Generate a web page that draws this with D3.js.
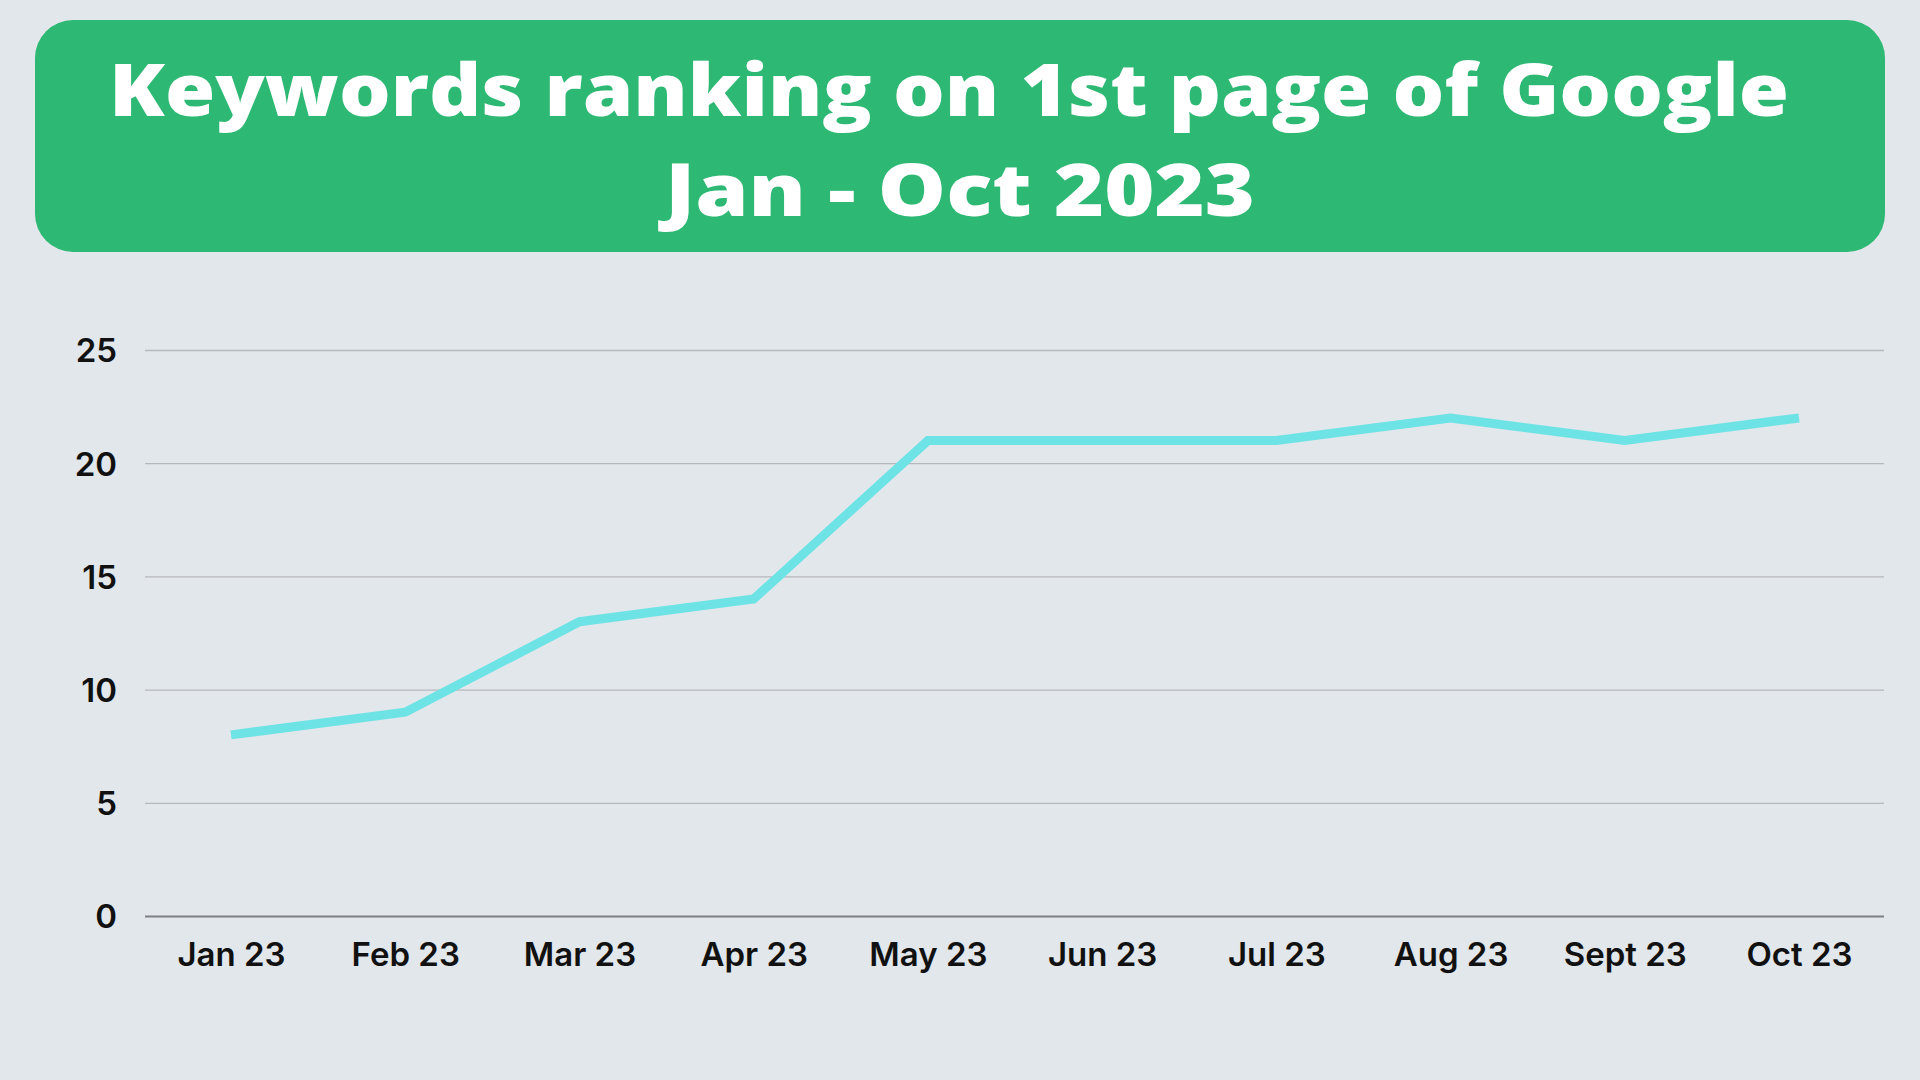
<!DOCTYPE html>
<html>
<head>
<meta charset="utf-8">
<script src="https://cdn.jsdelivr.net/npm/d3@7"></script>
<style>
  html, body { margin: 0; padding: 0; background: #e2e7eb; }
  svg { display: block; }
</style>
</head>
<body>
<svg id="chart" width="1920" height="1080"></svg>
<script>
const months = ["Jan 23", "Feb 23", "Mar 23", "Apr 23", "May 23", "Jun 23", "Jul 23", "Aug 23", "Sept 23", "Oct 23"];
const keywords = [8, 9, 13, 14, 21, 21, 21, 22, 21, 22];
const yTicks = [0, 5, 10, 15, 20, 25];
const titleLines = ["Keywords ranking on 1st page of Google", "Jan - Oct 2023"];

const width = 1920, height = 1080;
const svg = d3.select("#chart");

svg.append("rect")
    .attr("width", width)
    .attr("height", height)
    .attr("fill", "#e2e7eb");

// Banner del título
svg.append("rect")
    .attr("x", 35)
    .attr("y", 20)
    .attr("width", 1850)
    .attr("height", 232)
    .attr("rx", 38)
    .attr("fill", "#2db873");

// Título: dos líneas, estiradas al ancho del original
const titulo = [
    { texto: titleLines[0], x: 949, y: 116, ancho: 1680 },
    { texto: titleLines[1], x: 960, y: 216, ancho: 590 }
];

svg.selectAll("text.titulo")
    .data(titulo)
    .join("text")
    .attr("class", "titulo")
    .attr("x", d => d.x)
    .attr("y", d => d.y)
    .attr("text-anchor", "middle")
    .attr("textLength", d => d.ancho)
    .attr("lengthAdjust", "spacingAndGlyphs")
    .attr("fill", "#ffffff")
    .style("font-family", "'Open Sans', 'DejaVu Sans', sans-serif")
    .style("font-weight", 800)
    .style("font-size", "72px")
    .text(d => d.texto);

// Escalas
const x = d3.scalePoint()
    .domain(months)
    .range([231, 1799]);

const y = d3.scaleLinear()
    .domain([0, 25])
    .range([916, 350]);

// Rejilla
svg.append("g")
    .attr("transform", "translate(145,0)")
    .call(d3.axisLeft(y).tickValues(yTicks).tickSize(-(1884 - 145)).tickFormat(""))
    .call(g => g.select(".domain").remove())
    .call(g => g.selectAll(".tick line")
        .attr("stroke", d => d === 0 ? "#7d8084" : "#b5b9bd")
        .attr("stroke-width", d => d === 0 ? 2 : 1.3));

// Etiquetas eje Y
svg.append("g")
    .attr("transform", "translate(117,0)")
    .call(d3.axisLeft(y).tickValues(yTicks).tickSize(0).tickPadding(0))
    .call(g => g.select(".domain").remove())
    .call(g => g.selectAll("text")
        .attr("fill", "#111111")
        .attr("dy", "0.36em")
        .style("font-family", "Inter, 'Noto Sans', sans-serif")
        .style("font-weight", 600)
        .style("font-size", "33px"));

// Etiquetas eje X
svg.append("g")
    .attr("transform", "translate(0,966)")
    .call(d3.axisBottom(x).tickSize(0).tickPadding(0))
    .call(g => g.select(".domain").remove())
    .call(g => g.selectAll("text")
        .attr("fill", "#111111")
        .attr("dy", "0")
        .style("font-family", "Inter, 'Noto Sans', sans-serif")
        .style("font-weight", 600)
        .style("font-size", "33px"));

// Línea
const line = d3.line()
    .x((d, i) => x(months[i]))
    .y(d => y(d));

svg.append("path")
    .datum(keywords)
    .attr("d", line)
    .attr("fill", "none")
    .attr("stroke", "#6ee3e6")
    .attr("stroke-width", 9)
    .attr("stroke-linejoin", "miter");
</script>
</body>
</html>
